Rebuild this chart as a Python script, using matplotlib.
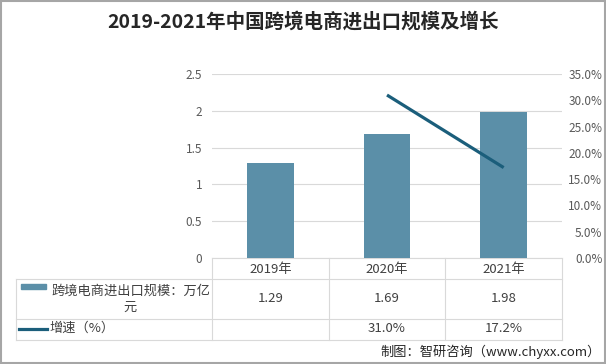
import matplotlib
matplotlib.use("Agg")
import matplotlib.pyplot as plt
from matplotlib.patches import Rectangle
from matplotlib.transforms import blended_transform_factory

plt.rcParams['font.family'] = ['Noto Sans CJK SC', 'DejaVu Sans']

# data
years = ["2019年", "2020年", "2021年"]
scale = [1.29, 1.69, 1.98]              # 万亿元
growth = [None, 31.0, 17.2]             # %
scale_label = "跨境电商进出口规模：万亿\n元"
growth_label = "增速（%）"
title = "2019-2021年中国跨境电商进出口规模及增长"
source = "制图：智研咨询（www.chyxx.com）"

W, H = 606, 364
BAR = "#5B8FA8"
LINE = "#1B5E7B"
GRID = "#D9D9D9"
TXT = "#404040"
TICK = "#595959"


def fx(px):
    return px / W


def fy(py):
    return 1 - py / H


fig = plt.figure(figsize=(W / 100, H / 100), dpi=100)
ax = fig.add_axes([fx(212), fy(258), fx(562) - fx(212), fy(74) - fy(258)])
ax2 = ax.twinx()

x = list(range(len(years)))
ax.bar(x, scale, width=0.4, color=BAR, zorder=3)
ax.set_xlim(-0.5, len(years) - 0.5)
ax.set_ylim(0, 2.5)
ax.set_yticks([0, 0.5, 1, 1.5, 2, 2.5])
ax.set_yticklabels(["0", "0.5", "1", "1.5", "2", "2.5"])
ax.yaxis.grid(True, color=GRID, lw=0.8, zorder=0)
ax.set_xticks([])
ax.tick_params(axis='y', length=0, pad=7, labelsize=8.5, labelcolor=TICK)
for s in ["top", "right", "left"]:
    ax.spines[s].set_visible(False)
ax.spines["bottom"].set_color(GRID)

gx = [xi for xi, g in zip(x, growth) if g is not None]
gy = [g for g in growth if g is not None]
ax2.plot(gx, gy, color=LINE, lw=2.3, solid_capstyle='butt', zorder=4)
ax2.set_ylim(0, 35)
ticks = [0, 5, 10, 15, 20, 25, 30, 35]
ax2.set_yticks(ticks)
ax2.set_yticklabels([f"{t:.1f}%" for t in ticks])
ax2.tick_params(axis='y', length=0, pad=29, labelsize=8.5, labelcolor=TICK)
for lab in ax2.get_yticklabels():
    lab.set_ha('right')
for s in ax2.spines.values():
    s.set_visible(False)

# data table under the plot
tr = blended_transform_factory(ax.transData, fig.transFigure)
lc = GRID
fig.add_artist(plt.Line2D([fx(16), fx(562)], [fy(279)] * 2, color=lc, lw=0.8))
fig.add_artist(plt.Line2D([fx(16), fx(562)], [fy(319)] * 2, color=lc, lw=0.8))
fig.add_artist(plt.Line2D([fx(16), fx(562)], [fy(340)] * 2, color=lc, lw=0.8))
fig.add_artist(plt.Line2D([fx(16)] * 2, [fy(279), fy(340)], color=lc, lw=0.8))
for b in [-0.5, 0.5, 1.5, 2.5]:
    fig.add_artist(plt.Line2D([b, b], [fy(258), fy(340)], color=lc, lw=0.8,
                              transform=tr))

for xi, yr, v, g in zip(x, years, scale, growth):
    fig.text(xi, fy(269), yr, transform=tr, ha='center', va='center',
             fontsize=9.5, color=TXT)
    fig.text(xi, fy(299), f"{v:.2f}", transform=tr, ha='center', va='center',
             fontsize=9.5, color=TXT)
    if g is not None:
        fig.text(xi, fy(329), f"{g:.1f}%", transform=tr, ha='center',
                 va='center', fontsize=9.5, color=TXT)

fig.add_artist(Rectangle((fx(21), fy(289)), fx(25), fy(284) - fy(289),
                         color=BAR, transform=fig.transFigure))
fig.text(fx(51), fy(299), scale_label, ha='left', va='center',
         multialignment='center', fontsize=9.5, color=TXT, linespacing=1.35)
fig.add_artist(plt.Line2D([fx(19), fx(47)], [fy(329)] * 2, color=LINE, lw=2.3))
fig.text(fx(49), fy(328), growth_label, ha='left', va='center',
         fontsize=9.5, color=TXT)

fig.text(0.5, fy(22), title, ha='center', va='center', fontsize=14,
         fontweight='bold', color="#262626")
fig.text(fx(601), fy(352), source, ha='right', va='center', fontsize=9.5,
         color="#262626")

fig.add_artist(Rectangle((0.001, 0.002), 0.997, 0.995, fill=False,
                         edgecolor="#A6A6A6", lw=1.5, transform=fig.transFigure))

fig.savefig("out.png", dpi=100)
